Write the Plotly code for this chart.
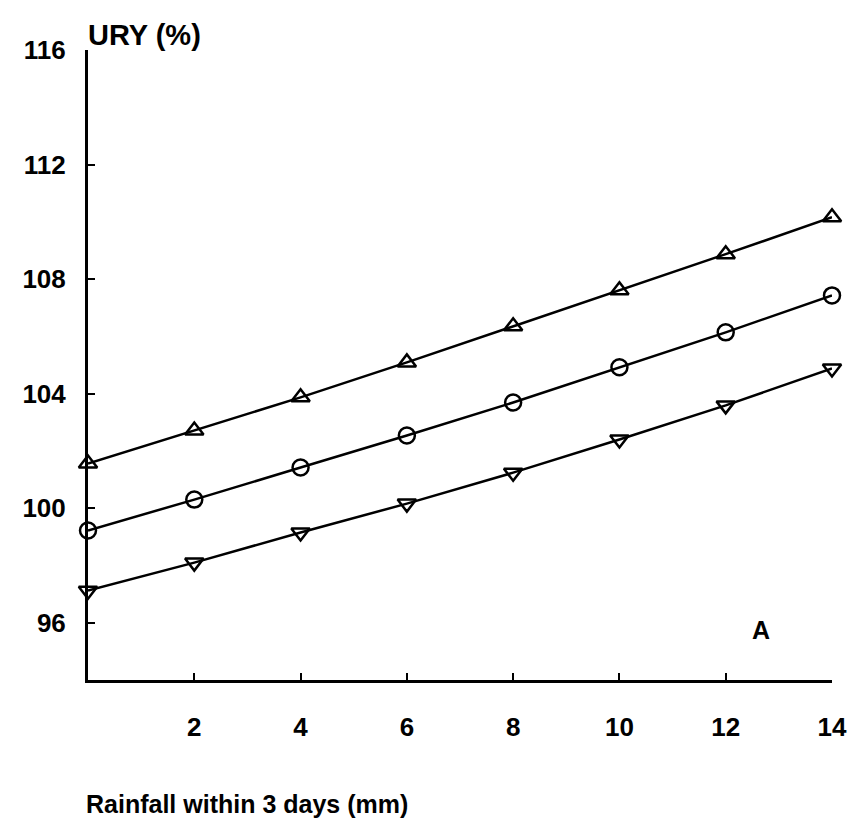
import plotly.graph_objects as go

rainfall = [0, 2, 4, 6, 8, 10, 12, 14]
ury_upper = [101.56, 102.71, 103.87, 105.09, 106.35, 107.61, 108.87, 110.16]
ury_middle = [99.22, 100.30, 101.42, 102.54, 103.69, 104.92, 106.14, 107.43]
ury_lower = [97.12, 98.10, 99.15, 100.16, 101.24, 102.40, 103.59, 104.88]
x_ticks = [2, 4, 6, 8, 10, 12, 14]
y_ticks = [96, 100, 104, 108, 112, 116]

FONT = "Liberation Sans, Arial, sans-serif"

fig = go.Figure()
for ys, sym, sz in [(ury_upper, "triangle-up-open", 16), (ury_middle, "circle-open", 16),
                    (ury_lower, "triangle-down-open", 16)]:
    fig.add_trace(go.Scatter(
        x=rainfall, y=ys, mode="lines+markers",
        line=dict(color="black", width=2.5),
        marker=dict(symbol=sym, size=sz, color="black", line=dict(width=2.5, color="black")),
        cliponaxis=False, showlegend=False))

fig.update_layout(
    width=859, height=819,
    margin=dict(l=88, r=22, t=50, b=139),
    paper_bgcolor="white", plot_bgcolor="white",
    font=dict(family=FONT, color="black", size=26),
    xaxis=dict(range=[0, 14], tickvals=x_ticks, ticktext=[str(v) for v in x_ticks],
               ticks="inside", ticklen=7, tickwidth=2, tickcolor="black",
               showline=True, linecolor="black", linewidth=3, showgrid=False,
               zeroline=False, tickfont=dict(family=FONT, size=26, weight=700),
               ticklabelstandoff=22),
    yaxis=dict(range=[94, 116], tickvals=y_ticks, ticktext=[str(v) for v in y_ticks],
               ticks="inside", ticklen=7, tickwidth=2, tickcolor="black",
               showline=True, linecolor="black", linewidth=3, showgrid=False,
               zeroline=False, tickfont=dict(family=FONT, size=26, weight=700),
               ticklabelstandoff=14),
    annotations=[
        dict(text="URY (%)", xref="paper", yref="paper", x=0, y=1, xanchor="left",
             yanchor="middle", yshift=15, xshift=-2, showarrow=False,
             font=dict(family=FONT, size=29, weight=700)),
        dict(text="Rainfall within 3 days (mm)", xref="paper", yref="paper", x=0, y=0,
             xanchor="left", yanchor="middle", yshift=-124, xshift=-4, showarrow=False,
             font=dict(family=FONT, size=25, weight=700)),
        dict(text="A", xref="x", yref="y", x=12.67, y=95.75, showarrow=False,
             font=dict(family=FONT, size=25, weight=700)),
    ],
)

fig.write_html("out.html")
